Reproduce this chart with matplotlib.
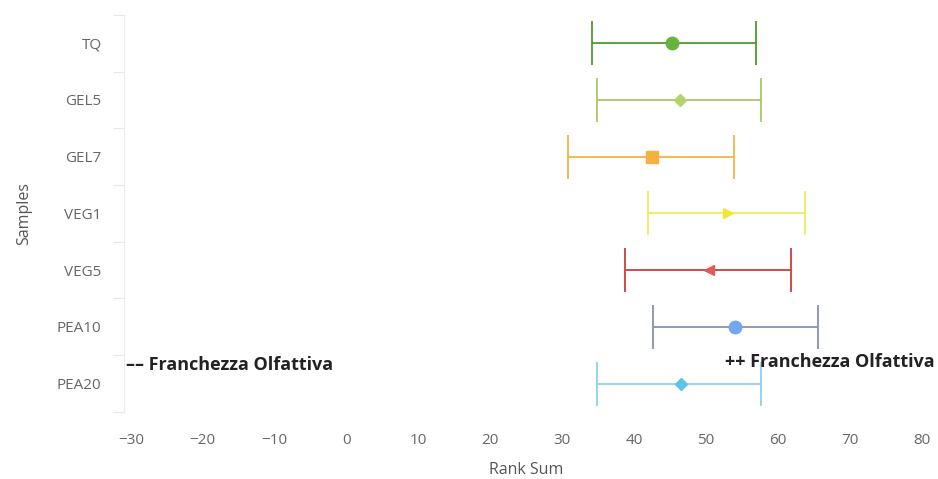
import matplotlib
matplotlib.use("Agg")
import matplotlib.pyplot as plt
import numpy as np

samples = ["TQ", "GEL5", "GEL7", "VEG1", "VEG5", "PEA10", "PEA20"]
rank_sum = [45.3, 46.4, 42.5, 53.1, 50.4, 54.1, 46.5]
ci_low = [34.1, 34.8, 30.8, 41.9, 38.8, 42.7, 34.8]
ci_high = [56.9, 57.6, 53.9, 63.8, 61.8, 65.6, 57.7]
x_ticks = [-30, -20, -10, 0, 10, 20, 30, 40, 50, 60, 70, 80]

line_colors = ["#4f9a2e", "#a8c766", "#f2b447", "#f2ea5a", "#c8403c", "#8a8fb3", "#8ed0ec"]
marker_colors = ["#66b53a", "#b3d466", "#f5b042", "#f0e63a", "#e05a5a", "#6fa8ec", "#5cc4e4"]
markers = ["o", "D", "s", ">", "<", "o", "D"]
marker_sizes = [9, 6, 8, 7, 7, 9, 6]

plt.rcParams["font.family"] = ["Open Sans", "DejaVu Sans"]

fig = plt.figure(figsize=(9.38, 4.79), dpi=100)
ax = fig.add_axes([0.132, 0.14, 0.859, 0.829])

ypos = np.arange(len(samples))
for i in range(len(samples)):
    ax.errorbar(rank_sum[i], ypos[i],
                xerr=[[rank_sum[i] - ci_low[i]], [ci_high[i] - rank_sum[i]]],
                fmt="none", ecolor=line_colors[i], elinewidth=1.3,
                capsize=16, capthick=1.3, zorder=2)
    ax.plot(rank_sum[i], ypos[i], marker=markers[i], color=marker_colors[i],
            markersize=marker_sizes[i], linestyle="none", zorder=3)

ax.set_xlim(-30.97, 81.1)
ax.set_ylim(len(samples) - 0.5, -0.5)
ax.set_xticks(x_ticks)
ax.set_xticklabels([str(t).replace("-", "\u2212") for t in x_ticks])
ax.set_yticks(ypos)
ax.set_yticklabels(samples)
ax.set_yticks(np.arange(-0.5, len(samples) + 0.5, 1.0), minor=True)

ax.tick_params(axis="x", length=0, pad=15, labelsize=11, colors="#666666")
ax.tick_params(axis="y", which="major", length=0, pad=16, labelsize=11, colors="#666666")
ax.tick_params(axis="y", which="minor", length=8, width=0.8, color="#e6e6e6")

for s in ["top", "right", "bottom"]:
    ax.spines[s].set_visible(False)
ax.spines["left"].set_color("#ececec")
ax.spines["left"].set_linewidth(0.8)

ax.set_xlabel("Rank Sum", fontsize=11.5, color="#555555", labelpad=10)
ax.set_ylabel("Samples", fontsize=11.5, color="#555555", labelpad=18)

ax.text(0.003, 0.118, "\u2013\u2013 Franchezza Olfattiva", transform=ax.transAxes,
        fontsize=13, fontweight="bold", color="#222222", ha="left", va="center")
ax.text(1.006, 0.126, "++ Franchezza Olfattiva", transform=ax.transAxes,
        fontsize=13, fontweight="bold", color="#222222", ha="right", va="center")

fig.savefig("out.png", dpi=100)
